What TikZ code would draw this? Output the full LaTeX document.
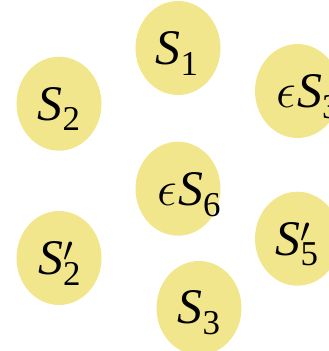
\RequirePackage{fix-cm}
\documentclass[tikz,border=0pt]{standalone}
\usepackage{fontspec}
\setmainfont{Liberation Serif}
\usetikzlibrary{shapes.geometric}
\definecolor{blobyellow}{RGB}{242,230,140}
% subscripted state names
\newcommand{\stname}[1]{\textit{S}\raisebox{-10.7bp}{\fontsize{35}{35}\selectfont #1}}
\newcommand{\stnamep}[1]{\textit{S}\rlap{\raisebox{13bp}{\fontsize{35}{35}\selectfont$\prime$}}\raisebox{-10.7bp}{\fontsize{35}{35}\selectfont #1}}
\newcommand{\eps}{$\epsilon$\kern1bp}

\begin{document}
\begin{tikzpicture}[x=1bp, y=-1bp,
    blob/.style={ellipse, fill=blobyellow, minimum width=85bp, minimum height=94bp, inner sep=0pt},
    lbl/.style={anchor=base, inner sep=0pt, font=\fontsize{50}{60}\selectfont}]
    % Frame of the picture, the blobs on the edges are cut off
    \useasboundingbox (0,0) rectangle (329,351);

    % The seven blobs
    \node[blob] (s1) at (178,48) {};
    \node[blob] (s2) at (59,103.7) {};
    \node[blob] (es3) at (297.5,91) {};
    \node[blob] (es6) at (178,188.7) {};
    \node[blob] (s2p) at (59,258) {};
    \node[blob] (s5p) at (297.5,238.7) {};
    \node[blob] (s3) at (199,308) {};

    % Their names, set on the baseline
    \node[lbl] (s1t) at (177,64.3) {\stname{1}};
    \node[lbl] (s2t) at (59,120) {\stname{2}};
    \node[lbl] (es3t) at (308,107.5) {\eps\stname{3}};
    \node[lbl] (es6t) at (189,205.7) {\eps\stname{6}};
    \node[lbl] (s2pt) at (59.5,274.3) {\stnamep{2}};
    \node[lbl] (s5pt) at (297,255) {\stnamep{5}};
    \node[lbl] (s3t) at (199,323.3) {\stname{3}};

\end{tikzpicture}
\end{document}
